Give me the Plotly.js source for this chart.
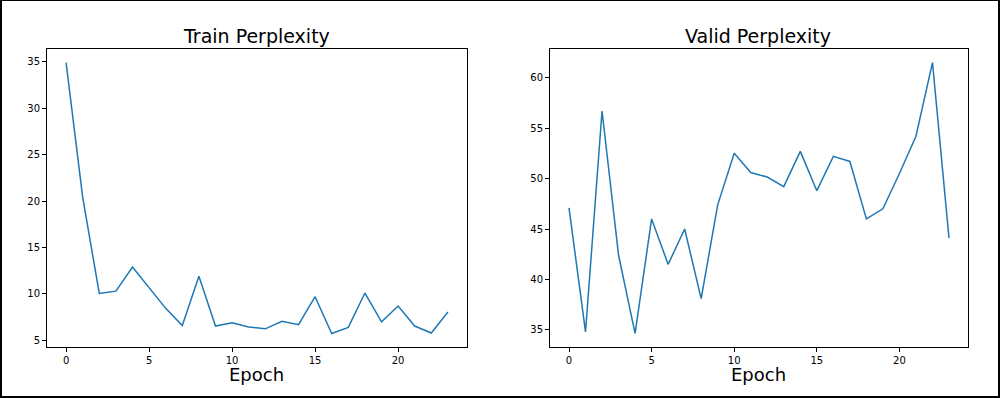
<!DOCTYPE html>
<html>
<head>
<meta charset="utf-8">
<script src="https://cdn.plot.ly/plotly-3.0.1.min.js"></script>
<style>
  html, body { margin: 0; padding: 0; background: #fff; }
  #wrap { position: relative; width: 1000px; height: 398px; }
  #chart { position: absolute; left: 0; top: 0; width: 1000px; height: 398px; }
  #frame { position: absolute; left: 0; top: 0; width: 1000px; height: 398px; box-sizing: border-box;
           border-top: 1px solid #000; border-left: 2px solid #000; border-right: 2px solid #000; border-bottom: 2px solid #000;
           pointer-events: none; }
</style>
</head>
<body>
<div id="wrap"><div id="chart"></div><div id="frame"></div></div>
<script>
// Data
const epochs = [0,1,2,3,4,5,6,7,8,9,10,11,12,13,14,15,16,17,18,19,20,21,22,23];
const trainPerplexity = [34.9,20.4,10.05,10.3,12.9,10.7,8.45,6.6,11.9,6.55,6.9,6.45,6.25,7.05,6.7,9.7,5.75,6.4,10.1,7.0,8.7,6.55,5.8,8.05];
const validPerplexity = [47.1,34.8,56.7,42.4,34.65,46.0,41.5,45.0,38.1,47.4,52.5,50.6,50.15,49.2,52.7,48.8,52.2,51.7,46.0,47.0,50.5,54.2,61.5,44.1];
const xTicks = [0,5,10,15,20];
const trainYTicks = [5,10,15,20,25,30,35];
const validYTicks = [35,40,45,50,55,60];
const titles = ["Train Perplexity","Valid Perplexity"];
const xLabel = "Epoch";

const font = "DejaVu Sans, Liberation Sans, sans-serif";
const lineColor = "#1f77b4";

function axisBase(extra) {
  return Object.assign({
    showline: true, mirror: true, linecolor: "#000", linewidth: 1,
    ticks: "outside", ticklen: 4, tickwidth: 1, tickcolor: "#000",
    showgrid: false, zeroline: false,
    tickfont: {family: font, size: 10, color: "#000"},
    tickmode: "array", fixedrange: true
  }, extra);
}

const traces = [
  {x: epochs, y: trainPerplexity, type: "scatter", mode: "lines",
   line: {color: lineColor, width: 1.5}, xaxis: "x", yaxis: "y", showlegend: false},
  {x: epochs, y: validPerplexity, type: "scatter", mode: "lines",
   line: {color: lineColor, width: 1.5}, xaxis: "x2", yaxis: "y2", showlegend: false}
];

function padRange(arr) {
  const mn = Math.min(...arr), mx = Math.max(...arr);
  const m = (mx - mn) * 0.05;
  return [mn - m, mx + m];
}

const yDom = [(398 - 347) / 398, (398 - 49) / 398];

const layout = {
  width: 1000, height: 398,
  margin: {l: 0, r: 0, t: 0, b: 0},
  paper_bgcolor: "#fff", plot_bgcolor: "#fff",
  font: {family: font, color: "#000"},
  xaxis: axisBase({domain: [47/1000, 467/1000], range: padRange(epochs), tickvals: xTicks, anchor: "y"}),
  yaxis: axisBase({domain: yDom, range: padRange(trainPerplexity), tickvals: trainYTicks, anchor: "x"}),
  xaxis2: axisBase({domain: [550/1000, 968/1000], range: padRange(epochs), tickvals: xTicks, anchor: "y2"}),
  yaxis2: axisBase({domain: yDom, range: padRange(validPerplexity), tickvals: validYTicks, anchor: "x2"}),
  annotations: [
    {text: titles[0], xref: "paper", yref: "paper", x: 256/1000, y: (398-36)/398, xanchor: "center", yanchor: "middle", showarrow: false, font: {family: font, size: 19, color: "#000"}},
    {text: titles[1], xref: "paper", yref: "paper", x: 758/1000, y: (398-36)/398, xanchor: "center", yanchor: "middle", showarrow: false, font: {family: font, size: 19, color: "#000"}},
    {text: xLabel, xref: "paper", yref: "paper", x: 256/1000, y: (398-374)/398, xanchor: "center", yanchor: "middle", showarrow: false, font: {family: font, size: 18, color: "#000"}},
    {text: xLabel, xref: "paper", yref: "paper", x: 758/1000, y: (398-374)/398, xanchor: "center", yanchor: "middle", showarrow: false, font: {family: font, size: 18, color: "#000"}}
  ]
};

Plotly.newPlot("chart", traces, layout, {staticPlot: true, displayModeBar: false});
</script>
</body>
</html>
